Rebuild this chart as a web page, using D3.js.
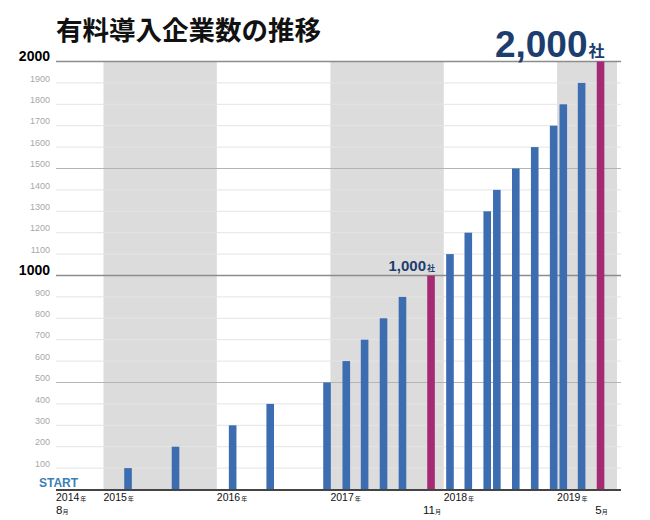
<!DOCTYPE html>
<html>
<head>
<meta charset="utf-8">
<script src="https://cdn.jsdelivr.net/npm/d3@7"></script>
<style>
  html, body { margin: 0; padding: 0; background: #fff; }
  svg { display: block; }
</style>
</head>
<body>
<svg id="chart" width="650" height="520"></svg>
<script>
// ---- data ----
const title = "有料導入企業数の推移";
const months = ["2015-03","2015-08","2016-02","2016-06","2016-12","2017-02","2017-04","2017-06","2017-08","2017-11",
                "2018-01","2018-03","2018-05","2018-06","2018-08","2018-10","2018-12","2019-01","2019-03","2019-05"];
const counts = [100,200,300,400,500,600,700,800,900,1000,1100,1200,1300,1400,1500,1600,1700,1800,1900,2000];
const highlightMonths = ["2017-11","2019-05"];
const highlightLabels = ["1,000", "2,000"];
const yTicks = [100,200,300,400,500,600,700,800,900,1000,1100,1200,1300,1400,1500,1600,1700,1800,1900,2000];
const majorTicks = [1000, 2000];
const midTicks = [500, 1500];
const yearLabels = ["2014","2015","2016","2017","2018","2019"];
const shadedYears = ["2015","2017","2019"];
const startLabel = "START";
const startMonth = "8";

// ---- scales ----
const svg = d3.select("#chart");
const parseDay = d3.timeParse("%Y-%m-%d");
const startDate = parseDay("2014-08-01");
const endDate = parseDay("2019-07-13");
const x = d3.scaleTime().domain([startDate, endDate]).range([56, 617]);
const y = d3.scaleLinear().domain([0, 2000]).range([489.5, 61.5]);
const barDate = m => parseDay(m + "-21");
const barW = 7.6;
const gridRight = 621;

// ---- shaded year bands ----
svg.append("g").selectAll("rect").data(shadedYears).join("rect")
  .attr("x", d => x(parseDay(d + "-01-01")))
  .attr("width", d => {
    const e = d3.min([parseDay((+d + 1) + "-01-01"), endDate]);
    return x(e) - x(parseDay(d + "-01-01"));
  })
  .attr("y", y(2000))
  .attr("height", y(0) - y(2000))
  .attr("fill", "#dcdcdc");

// ---- gridlines ----
svg.append("g").selectAll("line").data(yTicks).join("line")
  .attr("x1", x.range()[0]).attr("x2", gridRight)
  .attr("y1", d => y(d)).attr("y2", d => y(d))
  .attr("stroke", d => majorTicks.includes(d) ? "#8c8c8c" : (midTicks.includes(d) ? "#b5b5b5" : "#e4e4e4"))
  .attr("stroke-width", d => majorTicks.includes(d) ? 1.5 : 1);

// ---- bars ----
svg.append("g").selectAll("rect").data(months).join("rect")
  .attr("x", d => x(barDate(d)) - barW / 2)
  .attr("width", barW)
  .attr("y", (d, i) => y(counts[i]))
  .attr("height", (d, i) => y(0) - y(counts[i]))
  .attr("fill", d => highlightMonths.includes(d) ? "#a52a73" : "#3b6db0");

// ---- baseline ----
svg.append("line")
  .attr("x1", x.range()[0]).attr("x2", gridRight)
  .attr("y1", y(0) + 0.5).attr("y2", y(0) + 0.5)
  .attr("stroke", "#444").attr("stroke-width", 2);

// ---- y axis ----
const yAxis = svg.append("g")
  .attr("transform", "translate(50,0)")
  .call(d3.axisLeft(y).tickValues(yTicks).tickFormat(d3.format("d")).tickSize(0).tickPadding(0));
yAxis.select(".domain").remove();
yAxis.selectAll(".tick text")
  .attr("font-family", "'Liberation Sans', Arial, sans-serif")
  .attr("font-weight", d => majorTicks.includes(d) ? "bold" : "normal")
  .attr("font-size", d => majorTicks.includes(d) ? 14 : 9)
  .attr("fill", d => majorTicks.includes(d) ? "#000" : "#a8a8a8")
  .attr("dy", d => majorTicks.includes(d) ? "-0.05em" : "-0.2em");

// ---- title ----
svg.append("text")
  .attr("x", 56).attr("y", 40)
  .attr("font-family", "'Noto Sans CJK JP', sans-serif")
  .attr("font-weight", "bold")
  .attr("font-size", 26.5)
  .attr("fill", "#111")
  .text(title);

// ---- START ----
svg.append("text")
  .attr("x", 39).attr("y", 487)
  .attr("font-family", "'Liberation Sans', Arial, sans-serif")
  .attr("font-weight", "bold")
  .attr("font-size", 12)
  .attr("fill", "#3a7fb6")
  .text(startLabel);

// ---- year labels ----
const yearG = svg.append("g")
  .attr("font-family", "'Liberation Sans', Arial, sans-serif")
  .attr("fill", "#111");
const yearDate = d => d === yearLabels[0] ? startDate : parseDay(d + "-01-01");
const yt = yearG.selectAll("text").data(yearLabels).join("text")
  .attr("x", d => x(yearDate(d)))
  .attr("y", 501)
  .attr("font-size", 10.5);
yt.append("tspan").text(d => d);
yt.append("tspan").attr("font-size", 6).attr("font-family", "'Noto Sans CJK JP', sans-serif").attr("dx", 1).text("年");

// start month label
const sm = svg.append("text")
  .attr("x", x(startDate)).attr("y", 514)
  .attr("font-family", "'Liberation Sans', Arial, sans-serif")
  .attr("font-size", 11.5).attr("fill", "#111");
sm.append("tspan").text(startMonth);
sm.append("tspan").attr("font-size", 6).attr("font-family", "'Noto Sans CJK JP', sans-serif").text("月");

// highlight month labels
const hm = svg.append("g").selectAll("text").data(highlightMonths).join("text")
  .attr("x", d => x(barDate(d)) + 1)
  .attr("y", 514)
  .attr("text-anchor", "middle")
  .attr("font-family", "'Liberation Sans', Arial, sans-serif")
  .attr("font-size", 11.5).attr("fill", "#111");
hm.append("tspan").text(d => String(+d.split("-")[1]));
hm.append("tspan").attr("font-size", 6).attr("font-family", "'Noto Sans CJK JP', sans-serif").text("月");

// ---- highlight value labels ----
const hv1 = svg.append("text")
  .attr("x", x(barDate(highlightMonths[0])) + 4)
  .attr("y", y(1000) - 5)
  .attr("text-anchor", "end")
  .attr("font-family", "'Liberation Sans', Arial, sans-serif")
  .attr("font-weight", "bold")
  .attr("font-size", 15)
  .attr("fill", "#1c3d6e");
hv1.append("tspan").text(highlightLabels[0]);
hv1.append("tspan").attr("font-size", 8).attr("font-family", "'Noto Sans CJK JP', sans-serif").attr("dx", 1).text("社");

const hv2 = svg.append("text")
  .attr("x", x(barDate(highlightMonths[1])) + 4)
  .attr("y", y(2000) - 5)
  .attr("text-anchor", "end")
  .attr("font-family", "'Liberation Sans', Arial, sans-serif")
  .attr("font-weight", "bold")
  .attr("font-size", 37)
  .attr("fill", "#1c3d6e");
hv2.append("tspan").text(highlightLabels[1]);
hv2.append("tspan").attr("font-size", 16).attr("font-family", "'Noto Sans CJK JP', sans-serif").attr("dx", 1).text("社");
</script>
</body>
</html>
